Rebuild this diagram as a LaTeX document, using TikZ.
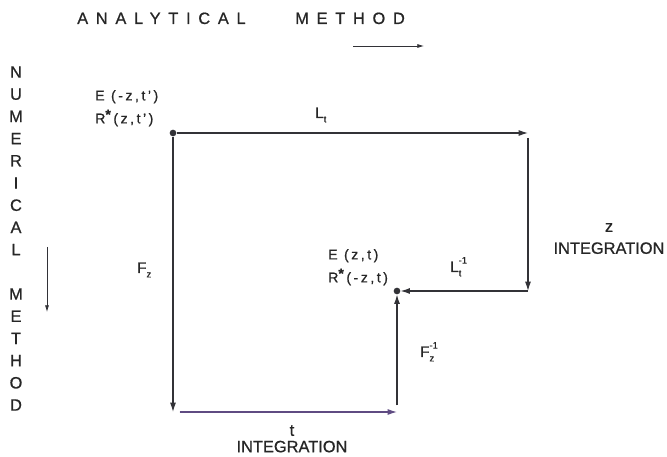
\documentclass[tikz,border=0pt]{standalone}
\usepackage{fontspec}
\setmainfont[FakeBold=0.8]{Liberation Sans}
\usepackage{tikz}
\usetikzlibrary{arrows.meta, positioning, calc}
\definecolor{inkline}{RGB}{50,50,55}
\definecolor{violetline}{RGB}{95,75,130}
\newcommand{\opidx}[2]{\rlap{\raisebox{1.05ex}{\footnotesize #1}}\raisebox{-0.55ex}{\footnotesize #2}}
\newcommand{\starred}{R\raisebox{0.55ex}{\textbf{*}}}
\tikzset{
    flow/.style={
        draw=inkline,
        line width=1pt,
        -{Latex[length=2.8mm, width=1.8mm]}
    },
    guide/.style={
        draw=inkline,
        line width=0.6pt,
        -{Latex[length=2mm, width=1.2mm]}
    },
    junction/.style={
        circle,
        fill=inkline,
        inner sep=0pt,
        minimum size=2mm
    }
}

\begin{document}
\begin{tikzpicture}[x=0.03cm, y=-0.03cm,
    every node/.style={inner sep=0pt, text=black!85},
    heading/.style={font=\fontsize{14}{16}\selectfont\addfontfeature{LetterSpace=47}},
    spine/.style={font=\fontsize{14}{16}\selectfont},
    term/.style={font=\fontsize{12}{19.6}\selectfont\addfontfeature{LetterSpace=18}, align=left},
    opname/.style={font=\fontsize{13}{15}\selectfont},
    stage/.style={font=\fontsize{14}{18.7}\selectfont, align=center}
]
\useasboundingbox (0,0) rectangle (667,457);

% corners of the loop
\node[junction] (start) at (173,133) {};
\node[junction] (finish) at (397,291) {};
\coordinate (tr) at (528,133);
\coordinate (mr) at (528,291);
\coordinate (bl) at (173,412);
\coordinate (br) at (397,412);

\draw[flow] (start) -- (tr);
\draw[flow, shorten <=0.15cm] (tr) -- (mr);
\draw[flow] (mr) -- (finish);
\draw[flow] (start) -- (bl);
\draw[flow, draw=violetline, fill=violetline, shorten <=0.2cm] (bl) -- (br);
\draw[flow, shorten <=0.2cm] (br) -- (finish);

% method headings
\node[heading, anchor=base west] (analytical) at (77,24) {ANALYTICAL};
\node[heading, anchor=base west] (method) at (295,24) {METHOD};
\coordinate (ana0) at (353,46);
\coordinate (ana1) at (424,46);
\draw[guide] (ana0) -- (ana1);

\foreach \c [count=\i from 0] in {N,U,M,E,R,I,C,A,L}
    \node[spine] (num\i) at (16,72+22.2*\i) {\c};
\foreach \c [count=\i from 10] in {M,E,T,H,O,D}
    \node[spine] (num\i) at (16,72+22.2*\i) {\c};
\coordinate (num0a) at (47,247);
\coordinate (num0b) at (47,312);
\draw[guide] (num0a) -- (num0b);

% labels
\node[term, anchor=north west] (srcpair) at (95,90) {E (-z,t')\\\starred(z,t')};
\node[term, anchor=north west] (dstpair) at (328,249) {E (z,t)\\\starred(-z,t)};
\node[opname, anchor=base west] (lt) at (315,118) {L\opidx{}{t}};
\node[opname, anchor=base west] (fz) at (137,273) {F\opidx{}{z}};
\node[opname, anchor=base west] (ltinv) at (450,272) {L\opidx{-1}{t}};
\node[opname, anchor=base west] (fzinv) at (420,357) {F\opidx{-1}{z}};
\node[stage, anchor=north] (zint) at (609,223) {z\\INTEGRATION};
\node[stage, anchor=north, font=\fontsize{14}{14}\selectfont] (tint) at (292,425) {t\\INTEGRATION};
\end{tikzpicture}
\end{document}
